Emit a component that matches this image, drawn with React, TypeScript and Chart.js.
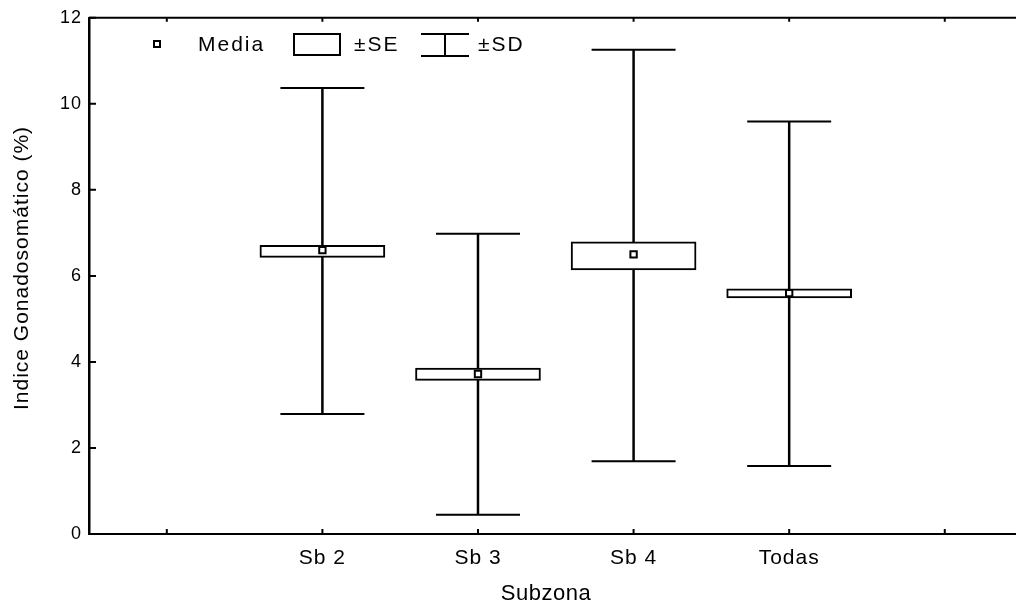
import React, { useEffect, useRef } from "react";
import { Chart, registerables } from "chart.js";

Chart.register(...registerables);

const categories = ["Sb 2", "Sb 3", "Sb 4", "Todas"];
const tickLabels = ["", "Sb 2", "Sb 3", "Sb 4", "Todas", ""];
const means = [6.6, 3.72, 6.5, 5.6];
const seLow = [6.43, 3.57, 6.14, 5.49];
const seHigh = [6.71, 3.86, 6.79, 5.7];
const sdLow = [2.79, 0.45, 1.69, 1.58];
const sdHigh = [10.37, 6.98, 11.26, 9.59];
const yTickValues = [0, 2, 4, 6, 8, 10, 12];

const FONT = "'Liberation Sans', Arial, sans-serif";

const customPlugin = {
  id: "statStyle",
  beforeUpdate(chart: any) {
    chart.ctx.letterSpacing = "1px";
  },
  beforeDraw(chart: any) {
    chart.ctx.letterSpacing = "1px";
  },
  beforeDatasetsDraw(chart: any) {
    const { ctx, scales } = chart;
    const x = scales.x;
    const y = scales.y;
    ctx.save();
    ctx.strokeStyle = "#000";
    categories.forEach((_c, i) => {
      const px = x.getPixelForValue(i + 1);
      const top = y.getPixelForValue(sdHigh[i]);
      const bot = y.getPixelForValue(sdLow[i]);
      ctx.lineWidth = 2.5;
      ctx.beginPath();
      ctx.moveTo(px, top);
      ctx.lineTo(px, bot);
      ctx.stroke();
      ctx.lineWidth = 2;
      const half = 42;
      ctx.beginPath();
      ctx.moveTo(px - half, top);
      ctx.lineTo(px + half, top);
      ctx.moveTo(px - half, bot);
      ctx.lineTo(px + half, bot);
      ctx.stroke();
    });
    ctx.restore();
  },
  afterDraw(chart: any) {
    const { ctx, chartArea, scales } = chart;
    const x = scales.x;
    const y = scales.y;
    ctx.save();
    ctx.strokeStyle = "#000";
    ctx.fillStyle = "#000";
    ctx.lineWidth = 2;
    // frame lines: top and bottom, running to the page edge
    const yb = Math.round(chartArea.bottom);
    ctx.beginPath();
    ctx.moveTo(chartArea.left, chartArea.top);
    ctx.lineTo(1016, chartArea.top);
    ctx.moveTo(chartArea.left - 1, yb);
    ctx.lineTo(1016, yb);
    ctx.stroke();
    // inward ticks
    ctx.beginPath();
    y.ticks.forEach((t: any) => {
      const py = y.getPixelForValue(t.value);
      ctx.moveTo(chartArea.left, py);
      ctx.lineTo(chartArea.left + 7, py);
    });
    x.ticks.forEach((t: any) => {
      const px = x.getPixelForValue(t.value);
      ctx.moveTo(px, yb);
      ctx.lineTo(px, yb - 5);
      ctx.moveTo(px, chartArea.top);
      ctx.lineTo(px, chartArea.top + 4);
    });
    ctx.stroke();

    // axis titles
    ctx.textBaseline = "middle";
    ctx.textAlign = "center";
    ctx.font = `22px ${FONT}`;
    ctx.letterSpacing = "0.5px";
    ctx.fillText("Subzona", 546, 594);
    ctx.save();
    ctx.translate(22, 268);
    ctx.rotate(-Math.PI / 2);
    ctx.font = `21px ${FONT}`;
    ctx.letterSpacing = "1px";
    ctx.fillText("Indice Gonadosomático (%)", 0, 0);
    ctx.restore();

    // legend
    ctx.font = `21px ${FONT}`;
    ctx.letterSpacing = "2px";
    ctx.textAlign = "left";
    ctx.fillStyle = "#fff";
    ctx.fillRect(154, 41, 6, 6);
    ctx.strokeRect(154, 41, 6, 6);
    ctx.fillStyle = "#000";
    ctx.fillText("Media", 198, 45);
    ctx.strokeRect(294, 34, 46, 21);
    ctx.fillText("±SE", 354, 45);
    ctx.beginPath();
    ctx.moveTo(421, 34);
    ctx.lineTo(469, 34);
    ctx.moveTo(445, 34);
    ctx.lineTo(445, 56);
    ctx.moveTo(421, 56);
    ctx.lineTo(469, 56);
    ctx.stroke();
    ctx.fillText("±SD", 478, 45);
    ctx.restore();
  },
};

export default function App() {
  const ref = useRef<HTMLCanvasElement | null>(null);
  useEffect(() => {
    if (!ref.current) return;
    Chart.defaults.font.family = FONT;
    Chart.defaults.color = "#000";
    const chart = new Chart(ref.current, {
      type: "bar",
      data: {
        datasets: [
          {
            type: "scatter",
            label: "Media",
            data: categories.map((_c, i) => ({ x: i + 1, y: means[i] })),
            pointStyle: "rect",
            pointRadius: 4.5,
            pointBorderWidth: 2,
            pointBackgroundColor: "#fff",
            pointBorderColor: "#000",
            order: 0,
          } as any,
          {
            type: "bar",
            label: "±SE",
            data: categories.map((_c, i) => ({ x: i + 1, y: [seLow[i], seHigh[i]] })) as any,
            backgroundColor: "#fff",
            borderColor: "#000",
            borderWidth: 2,
            borderSkipped: false,
            barThickness: 125,
            order: 1,
          } as any,
        ],
      },
      options: {
        responsive: false,
        animation: false,
        layout: { padding: { top: 12, left: 0, right: 0, bottom: 0 } },
        plugins: { legend: { display: false }, tooltip: { enabled: false } },
        scales: {
          x: {
            type: "linear",
            offset: false,
            min: -0.5,
            max: 5.416,
            grid: { display: false, drawTicks: false, offset: false },
            border: { display: false },
            afterBuildTicks: (scale: any) => {
              scale.ticks = tickLabels.map((_l, i) => ({ value: i }));
            },
            afterFit: (scale: any) => {
              scale.height = 72;
              scale.paddingLeft = 0;
              scale.paddingRight = 0;
            },
            ticks: {
              autoSkip: false,
              maxRotation: 0,
              padding: 12,
              font: { size: 21 },
              callback: (v: any) => tickLabels[Math.round(v)] ?? "",
            },
          },
          y: {
            type: "linear",
            min: 0,
            max: 12,
            grid: { display: false, drawTicks: false },
            border: { display: true, color: "#000", width: 2.5 },
            afterBuildTicks: (scale: any) => {
              scale.ticks = yTickValues.map((v) => ({ value: v }));
            },
            afterFit: (scale: any) => {
              scale.width = 89;
            },
            ticks: {
              padding: 7,
              font: { size: 18 },
              callback: (v: any) => String(v),
            },
          },
        },
      },
      plugins: [customPlugin],
    });
    return () => chart.destroy();
  }, []);
  return (
    <div style={{ position: "fixed", left: 0, top: 0, width: 1016, height: 606, background: "#fff" }}>
      <canvas ref={ref} width={1016} height={606} />
    </div>
  );
}
